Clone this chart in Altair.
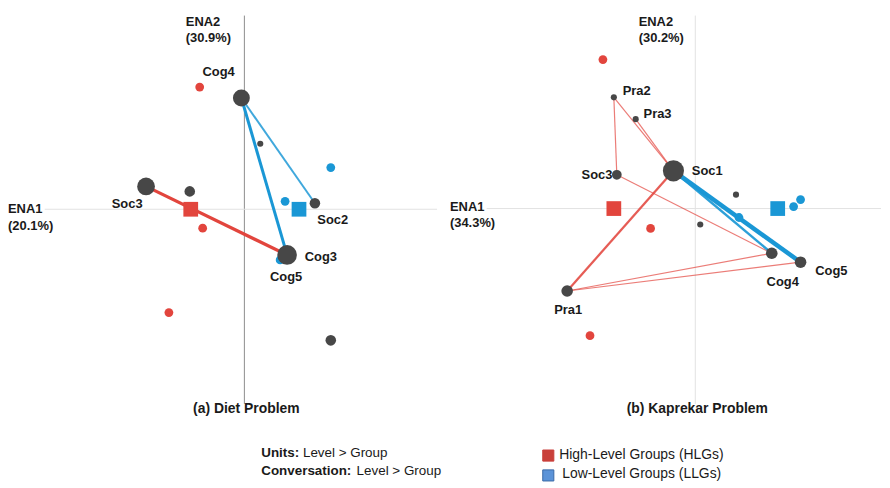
import altair as alt
import pandas as pd

FONT = "Liberation Sans"
TXT = "#1a1a1a"

# ---------------- Panel (a) Diet Problem ----------------
a_node_names = ["Cog4", "a1", "Soc3", "a2", "Soc2", "Cog5", "Cog3", "a3"]
a_node_x = [-0.03, 0.16, -0.99, -0.55, 0.71, 0.41, 0.43, 0.87]
a_node_y = [1.12, 0.66, 0.23, 0.18, 0.06, -0.44, -0.46, -1.32]
a_node_w = [0.80, 0.29, 0.84, 0.50, 0.50, 0.30, 0.93, 0.50]

a_edge_from = ["Soc3", "Cog4", "Cog4"]
a_edge_to = ["Cog3", "Cog3", "Soc2"]
a_edge_group = ["HLG", "LLG", "LLG"]
a_edge_w = [0.65, 0.60, 0.40]

a_pt_group = ["HLG", "HLG", "HLG", "LLG", "LLG", "LLG"]
a_pt_x = [-0.45, -0.42, -0.76, 0.87, 0.41, 0.36]
a_pt_y = [1.23, -0.19, -1.04, 0.42, 0.08, -0.51]

a_mean_group = ["HLG", "LLG"]
a_mean_x = [-0.54, 0.55]
a_mean_y = [0.0, 0.0]

# ---------------- Panel (b) Kaprekar Problem ----------------
b_node_names = ["Pra2", "Pra3", "Soc3", "Soc1", "b1", "b2", "Cog4", "Cog5", "Pra1"]
b_node_x = [-0.82, -0.60, -0.79, -0.22, 0.41, 0.05, 0.77, 1.06, -1.29]
b_node_y = [1.12, 0.90, 0.34, 0.38, 0.14, -0.16, -0.45, -0.54, -0.83]
b_node_w = [0.29, 0.29, 0.46, 1.00, 0.29, 0.29, 0.55, 0.55, 0.55]

b_edge_from = ["Pra1", "Pra1", "Soc3", "Pra2", "Pra2", "Pra3", "Soc1", "Soc1", "Soc1"]
b_edge_to = ["Cog4", "Cog5", "Cog4", "Soc3", "Soc1", "Soc1", "Pra1", "Cog4", "Cog5"]
b_edge_group = ["HLG", "HLG", "HLG", "HLG", "HLG", "HLG", "HLG", "LLG", "LLG"]
b_edge_w = [0.24, 0.24, 0.24, 0.24, 0.24, 0.24, 0.45, 0.50, 0.90]

b_pt_group = ["HLG", "HLG", "HLG", "LLG", "LLG", "LLG"]
b_pt_x = [-0.93, -0.45, -1.06, 0.44, 0.99, 1.06]
b_pt_y = [1.50, -0.20, -1.28, -0.09, 0.02, 0.09]

b_mean_group = ["HLG", "LLG"]
b_mean_x = [-0.82, 0.83]
b_mean_y = [0.0, 0.0]

# ---------------- texts ----------------
a_axis_texts = ["ENA2", "(30.9%)", "ENA1", "(20.1%)"]
b_axis_texts = ["ENA2", "(30.2%)", "ENA1", "(34.3%)"]
a_title = "(a) Diet Problem"
b_title = "(b) Kaprekar Problem"
legend_bold = ["Units:", "Conversation:"]
legend_rest = ["Level > Group", "Level > Group"]
legend_groups = ["High-Level Groups (HLGs)", "Low-Level Groups (LLGs)"]

GROUPS = ["HLG", "LLG"]
edge_color = alt.Scale(domain=GROUPS, range=["#e2453d", "#1a97d5"])
pt_color = alt.Scale(domain=GROUPS, range=["#d2403a", "#2a8ec8"])
mean_color = alt.Scale(domain=GROUPS, range=["#c9433b", "#2a8bc3"])
size_scale = alt.Scale(type="pow", exponent=2, domain=[0, 1], range=[0, 452])
width_scale = alt.Scale(domain=[0, 1], range=[0, 5])
opac_scale = alt.Scale(domain=[0.24, 0.6], range=[0.7, 1.0], clamp=True)

W_A, W_B, H = 432, 437, 468


def build_panel(names, nx, ny, nw, ef, et, eg, ew, pg, px, py, mg, mx, my,
                xdom, ydom, width, offsets, vline_color, hline_x0,
                axis_texts, axis_pos, title, title_x):
    xs = alt.Scale(domain=xdom, nice=False, zero=False)
    ys = alt.Scale(domain=ydom, nice=False, zero=False)
    nodes = pd.DataFrame({"name": names, "x": nx, "y": ny, "w": nw})
    lut = {n: (a, b) for n, a, b in zip(names, nx, ny)}
    edges = pd.DataFrame({
        "x": [lut[f][0] for f in ef], "y": [lut[f][1] for f in ef],
        "x2": [lut[t][0] for t in et], "y2": [lut[t][1] for t in et],
        "group": eg, "w": ew,
    })
    pts = pd.DataFrame({"group": pg, "x": px, "y": py})
    means = pd.DataFrame({"group": mg, "x": mx, "y": my})
    one = pd.DataFrame({"v": [0]})

    X = alt.X("x:Q", scale=xs, axis=None)
    Y = alt.Y("y:Q", scale=ys, axis=None)

    vline = alt.Chart(one).mark_rule(color=vline_color, strokeWidth=1).encode(
        x=alt.X("v:Q", scale=xs, axis=None), y=alt.value(6), y2=alt.value(397))
    hline = alt.Chart(one).mark_rule(color="#e2e2e2", strokeWidth=1).encode(
        y=alt.Y("v:Q", scale=ys, axis=None), x=alt.value(hline_x0), x2=alt.value(width))

    edge_layer = alt.Chart(edges).mark_rule().encode(
        x=X, y=Y, x2="x2:Q", y2="y2:Q",
        color=alt.Color("group:N", scale=edge_color, legend=None),
        strokeWidth=alt.StrokeWidth("w:Q", scale=width_scale, legend=None),
        opacity=alt.Opacity("w:Q", scale=opac_scale, legend=None),
    )
    pt_layer = alt.Chart(pts).mark_circle(size=78, opacity=1).encode(
        x=X, y=Y, color=alt.Color("group:N", scale=pt_color, legend=None))
    mean_layer = alt.Chart(means).mark_square(size=220, opacity=1).encode(
        x=X, y=Y, color=alt.Color("group:N", scale=mean_color, legend=None))
    node_layer = alt.Chart(nodes).mark_circle(color="#474747", opacity=1).encode(
        x=X, y=Y, size=alt.Size("w:Q", scale=size_scale, legend=None))

    layers = [vline, hline, edge_layer, pt_layer, mean_layer, node_layer]
    for nm, (dx, dy) in offsets.items():
        layers.append(
            alt.Chart(nodes).transform_filter(alt.datum.name == nm).mark_text(
                dx=dx, dy=dy, font=FONT, fontSize=13, fontWeight="bold", color=TXT,
                align="center", baseline="middle",
            ).encode(x=X, y=Y, text="name:N"))
    for t, (tx, ty) in zip(axis_texts, axis_pos):
        layers.append(
            alt.Chart(pd.DataFrame({"t": [t]})).mark_text(
                font=FONT, fontSize=13, fontWeight="bold", color=TXT,
                align="left", baseline="middle",
            ).encode(x=alt.value(tx), y=alt.value(ty), text="t:N"))
    layers.append(
        alt.Chart(pd.DataFrame({"t": [title]})).mark_text(
            font=FONT, fontSize=14, fontWeight="bold", color=TXT,
            align="center", baseline="middle",
        ).encode(x=alt.value(title_x), y=alt.value(402), text="t:N"))
    return layers


a_layers = build_panel(
    a_node_names, a_node_x, a_node_y, a_node_w,
    a_edge_from, a_edge_to, a_edge_group, a_edge_w,
    a_pt_group, a_pt_x, a_pt_y, a_mean_group, a_mean_x, a_mean_y,
    [-2.38, 1.94], [-2.67, 2.01], W_A,
    {"Cog4": (-23, -26), "Soc3": (-19, 18), "Soc2": (18, 17),
     "Cog3": (34, 2), "Cog5": (1, 24)},
    "#8c8c8c", 37,
    a_axis_texts, [(179, 12), (179, 29), (0, 201), (0, 218)],
    a_title, 240,
)
# legend text (left block) in panel (a)
rest_x = [297, 351]
for i, (bt, rt) in enumerate(zip(legend_bold, legend_rest)):
    yy = 446 + i * 19
    a_layers.append(alt.Chart(pd.DataFrame({"t": [bt]})).mark_text(
        font=FONT, fontSize=13.5, fontWeight="bold", color=TXT, align="left", baseline="middle"
    ).encode(x=alt.value(255), y=alt.value(yy), text="t:N"))
    a_layers.append(alt.Chart(pd.DataFrame({"t": [rt]})).mark_text(
        font=FONT, fontSize=13.5, color=TXT, align="left", baseline="middle"
    ).encode(x=alt.value(rest_x[i]), y=alt.value(yy), text="t:N"))

b_layers = build_panel(
    b_node_names, b_node_x, b_node_y, b_node_w,
    b_edge_from, b_edge_to, b_edge_group, b_edge_w,
    b_pt_group, b_pt_x, b_pt_y, b_mean_group, b_mean_x, b_mean_y,
    [-2.50, 1.87], [-2.677, 2.003], W_B,
    {"Pra2": (23, -6), "Pra3": (22, -5), "Soc3": (-20, 0), "Soc1": (34, 0),
     "Cog4": (11, 29), "Cog5": (31, 9), "Pra1": (1, 19)},
    "#e2e2e2", 40,
    b_axis_texts, [(193, 12), (193, 29), (3, 199), (3, 215)],
    b_title, 252,
)
# legend squares + labels in panel (b)
leg_fill = ["#c9403a", "#5b93d8"]
leg_stroke = ["#c9403a", "#3a6aa6"]
leg_y = [449, 469]
leg_tx = [113, 116]
for i in range(2):
    b_layers.append(alt.Chart(pd.DataFrame({"g": [GROUPS[i]]})).mark_square(
        size=125, opacity=1, fill=leg_fill[i], stroke=leg_stroke[i], strokeWidth=1
    ).encode(x=alt.value(102), y=alt.value(leg_y[i])))
    b_layers.append(alt.Chart(pd.DataFrame({"t": [legend_groups[i]]})).mark_text(
        font=FONT, fontSize=14, color=TXT, align="left", baseline="middle"
    ).encode(x=alt.value(leg_tx[i]), y=alt.value(leg_y[i] - 1), text="t:N"))

panel_a = alt.layer(*a_layers).properties(width=W_A, height=H)
panel_b = alt.layer(*b_layers).properties(width=W_B, height=H)

chart = alt.hconcat(panel_a, panel_b, spacing=5, padding=0).configure_view(stroke=None)
chart.save("out.html", embed_options={"renderer": "svg", "actions": False})
